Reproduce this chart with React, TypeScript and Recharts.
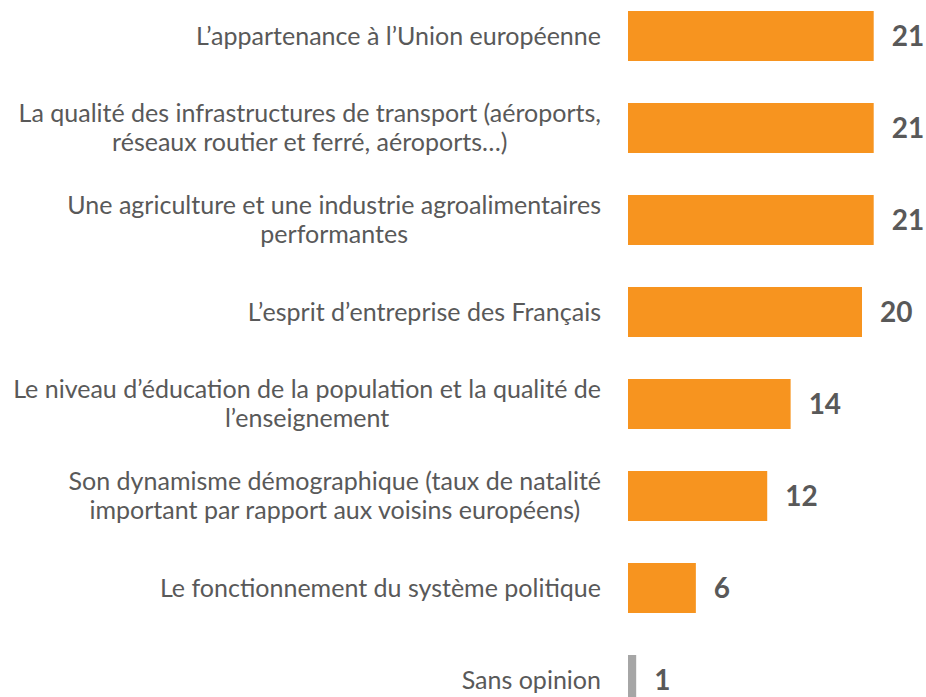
import React from 'react';
import { BarChart, Bar, XAxis, YAxis, Cell, LabelList } from 'recharts';

// Categories (line breaks marked with \n as in the reference)
const categories: string[] = [
  'L’appartenance à l’Union européenne',
  'La qualité des infrastructures de transport (aéroports,\nréseaux routier et ferré, aéroports…)',
  'Une agriculture et une industrie agroalimentaires\nperformantes',
  'L’esprit d’entreprise des Français',
  'Le niveau d’éducation de la population et la qualité de\nl’enseignement',
  'Son dynamisme démographique (taux de natalité\nimportant par rapport aux voisins européens)',
  'Le fonctionnement du système politique',
  'Sans opinion',
];

// Values
const values: number[] = [21, 21, 21, 20, 13.9, 11.9, 5.8, 0.7];

// Displayed value labels
const valueLabels: string[] = ['21', '21', '21', '20', '14', '12', '6', '1'];

const data = categories.map((name, i) => ({ name, value: values[i], label: valueLabels[i] }));

const ORANGE = '#F7941F';
const GRAY = '#A6A6A6';
const TEXT = '#595959';
const FONT = 'Lato, "Open Sans", sans-serif';

let ctx: CanvasRenderingContext2D | null = null;
const measure = (text: string, font: string): number => {
  if (!ctx) {
    const c = document.createElement('canvas');
    ctx = c.getContext('2d');
  }
  if (!ctx) return text.length * 10;
  ctx.font = font;
  return ctx.measureText(text).width;
};

const fitSize = (): number => {
  const w = measure('Le niveau d’éducation de la population et la qualité de', '100px Lato');
  if (!w) return 24;
  return (588 / w) * 100;
};

const LABEL_SIZE = fitSize();
const LINE_H = 29;
const LABEL_RIGHT = 601;

const CategoryTick = (props: any) => {
  const { y, payload } = props;
  const lines: string[] = String(payload.value).split('\n');
  const font = `${LABEL_SIZE}px Lato`;
  const widths = lines.map((l) => measure(l, font));
  const maxW = Math.max(...widths);
  const cx = LABEL_RIGHT - maxW / 2;
  const capHalf = LABEL_SIZE * 0.717 / 2;
  const n = lines.length;
  return (
    <g>
      {lines.map((l, i) => (
        <text
          key={i}
          x={cx}
          y={y + (i - (n - 1) / 2) * LINE_H + capHalf}
          textAnchor="middle"
          fill={TEXT}
          fontFamily={FONT}
          fontSize={LABEL_SIZE}
        >
          {l}
        </text>
      ))}
    </g>
  );
};

const ValueLabel = (props: any) => {
  const { x, y, width, height, index } = props;
  const size = 28;
  return (
    <text
      x={x + width + 18}
      y={y + height / 2 + size * 0.37}
      textAnchor="start"
      fill={TEXT}
      fontFamily={FONT}
      fontWeight={700}
      fontSize={size}
    >
      {valueLabels[index]}
    </text>
  );
};

export default function App() {
  return (
    <div style={{ position: 'absolute', left: 0, top: 0, width: 926, height: 697, overflow: 'hidden', background: '#fff' }}>
      <div style={{ position: 'relative', top: -10 }}>
        <BarChart
          width={926}
          height={736}
          data={data}
          layout="vertical"
          margin={{ top: 0, right: 5.5, bottom: 0, left: 0 }}
        >
          <XAxis type="number" domain={[0, 25]} hide />
          <YAxis
            type="category"
            dataKey="name"
            width={628}
            axisLine={false}
            tickLine={false}
            tick={<CategoryTick />}
            interval={0}
          />
          <Bar dataKey="value" barSize={50} isAnimationActive={false}>
            {data.map((d, i) => (
              <Cell key={i} fill={d.name === 'Sans opinion' ? GRAY : ORANGE} />
            ))}
            <LabelList dataKey="label" content={<ValueLabel />} />
          </Bar>
        </BarChart>
      </div>
    </div>
  );
}
